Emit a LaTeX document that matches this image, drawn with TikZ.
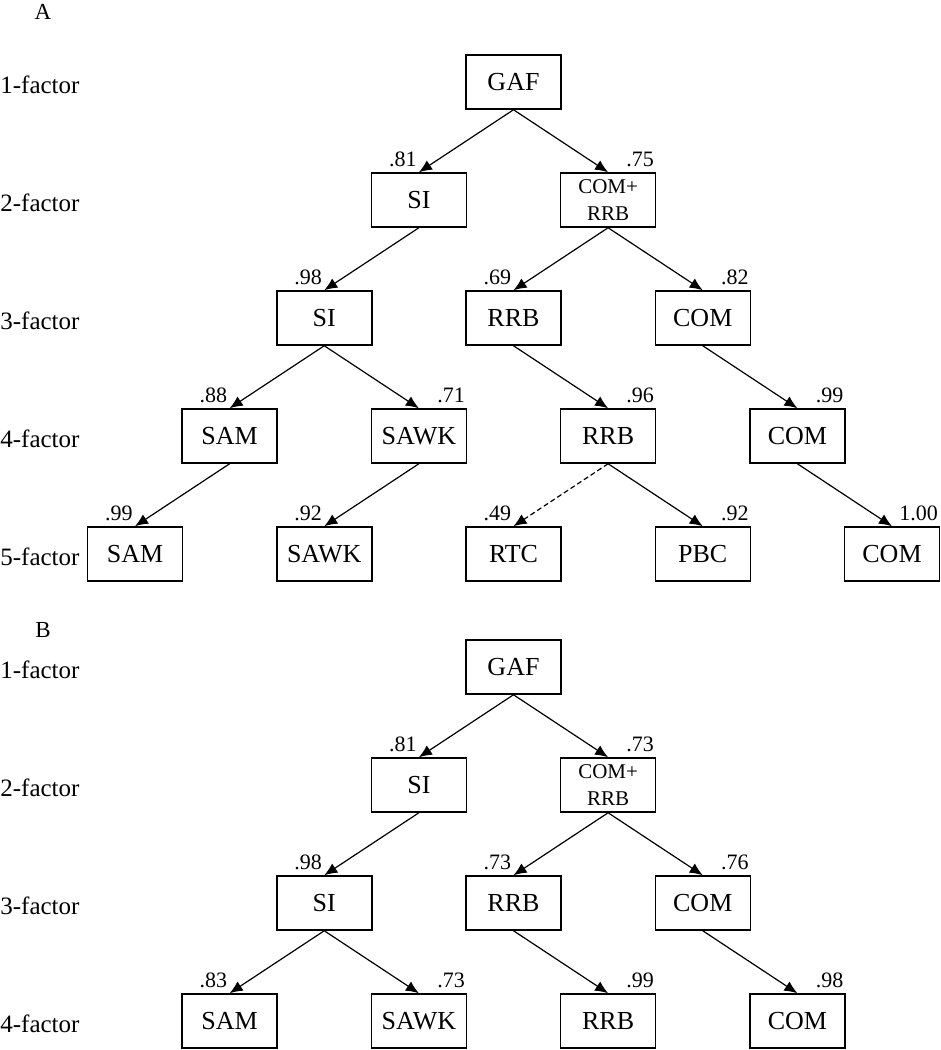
\documentclass[tikz,border=0pt]{standalone}
\usepackage{fontspec}
\setmainfont{Liberation Serif}
\usetikzlibrary{arrows.meta}
\usetikzlibrary{calc}

\begin{document}
\begin{tikzpicture}[x=0.5pt,y=-0.5pt,
    boite/.style={draw,line width=0.75pt,minimum width=47.5pt,minimum height=27pt,inner sep=1pt,font=\fontsize{13}{15}\selectfont},
    double/.style={boite,align=center,font=\fontsize{10.5}{13.5}\selectfont},
    lien/.style={line width=0.6pt,-{Latex[length=6.5pt,width=5.5pt]}},
    poids/.style={inner sep=0pt,anchor=south east,font=\fontsize{11}{13}\selectfont},
    rang/.style={anchor=west,inner sep=0pt,font=\fontsize{12.5}{14}\selectfont},
    panneau/.style={inner sep=0pt,font=\fontsize{11.5}{14}\selectfont}]
\useasboundingbox (0,0) rectangle (941,1050);

% panneau A
\node[panneau] (A) at (43,12) {A};
\foreach \n/\y in {1/85,2/203,3/321,4/439,5/557}
    \node[rang] (ra\n) at (0,\y) {\n-factor};
\node[boite] (aGAF) at (513.5,82) {GAF};
\node[boite] (aSI2) at (418.9,200) {SI};
\node[double] (aCR) at (608.1,200) {COM+\\RRB};
\node[boite] (aSI3) at (324.25,318) {SI};
\node[boite] (aRRB3) at (513.5,318) {RRB};
\node[boite] (aCOM3) at (702.75,318) {COM};
\node[boite] (aSAM4) at (229.6,436) {SAM};
\node[boite] (aSAWK4) at (418.9,436) {SAWK};
\node[boite] (aRRB4) at (608.1,436) {RRB};
\node[boite] (aCOM4) at (797.4,436) {COM};
\node[boite] (aSAM5) at (135,554) {SAM};
\node[boite] (aSAWK5) at (324.25,554) {SAWK};
\node[boite] (aRTC) at (513.5,554) {RTC};
\node[boite] (aPBC) at (702.75,554) {PBC};
\node[boite] (aCOM5) at (892,554) {COM};
\foreach \p/\c in {aGAF/aSI2,aGAF/aCR,aSI2/aSI3,aCR/aRRB3,aCR/aCOM3,aSI3/aSAM4,aSI3/aSAWK4,
    aRRB3/aRRB4,aCOM3/aCOM4,aSAM4/aSAM5,aSAWK4/aSAWK5,aRRB4/aPBC,aCOM4/aCOM5}
    \draw[lien] (\p.south) -- (\c.north);
\draw[lien,dash pattern=on 2.5pt off 1.5pt] (aRRB4.south) -- (aRTC.north);
\foreach \c/\v in {aSI2/.81,aSI3/.98,aRRB3/.69,aSAM4/.88,aSAM5/.99,aSAWK5/.92,aRTC/.49}
    \node[poids] (p\c) at ($(\c.north)+(-2,-5)$) {\v};
\foreach \c/\v in {aCR/.75,aCOM3/.82,aSAWK4/.71,aRRB4/.96,aCOM4/.99,aPBC/.92,aCOM5/1.00}
    \node[poids] (p\c) at ($(\c.north east)+(-2,-5)$) {\v};

% panneau B
\node[panneau] (B) at (43,630) {B};
\foreach \n/\y in {1/670,2/788,3/906,4/1024}
    \node[rang] (rb\n) at (0,\y) {\n-factor};
\node[boite] (bGAF) at (513.5,667) {GAF};
\node[boite] (bSI2) at (418.9,785) {SI};
\node[double] (bCR) at (608.1,785) {COM+\\RRB};
\node[boite] (bSI3) at (324.25,903) {SI};
\node[boite] (bRRB3) at (513.5,903) {RRB};
\node[boite] (bCOM3) at (702.75,903) {COM};
\node[boite] (bSAM4) at (229.6,1021) {SAM};
\node[boite] (bSAWK4) at (418.9,1021) {SAWK};
\node[boite] (bRRB4) at (608.1,1021) {RRB};
\node[boite] (bCOM4) at (797.4,1021) {COM};
\foreach \p/\c in {bGAF/bSI2,bGAF/bCR,bSI2/bSI3,bCR/bRRB3,bCR/bCOM3,bSI3/bSAM4,bSI3/bSAWK4,
    bRRB3/bRRB4,bCOM3/bCOM4}
    \draw[lien] (\p.south) -- (\c.north);
\foreach \c/\v in {bSI2/.81,bSI3/.98,bRRB3/.73,bSAM4/.83}
    \node[poids] (p\c) at ($(\c.north)+(-2,-5)$) {\v};
\foreach \c/\v in {bCR/.73,bCOM3/.76,bSAWK4/.73,bRRB4/.99,bCOM4/.98}
    \node[poids] (p\c) at ($(\c.north east)+(-2,-5)$) {\v};
\end{tikzpicture}
\end{document}
